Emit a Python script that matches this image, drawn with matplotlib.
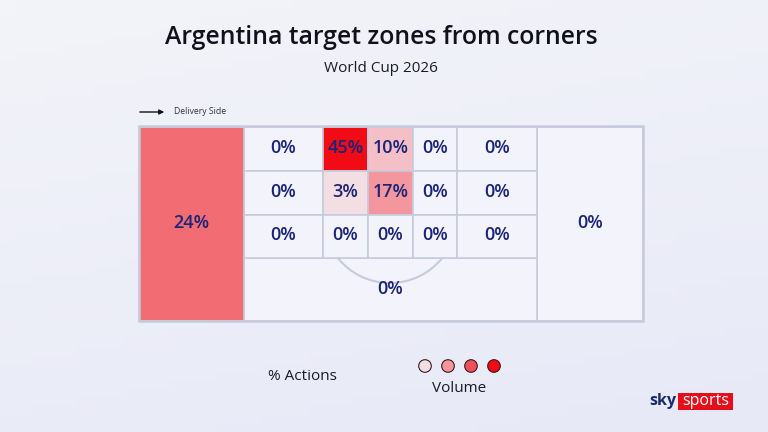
import numpy as np
import matplotlib.pyplot as plt
from matplotlib.patches import Rectangle, Arc, Circle
from matplotlib.colors import LinearSegmentedColormap

plt.rcParams['font.family'] = ['Open Sans', 'DejaVu Sans']

title = "Argentina target zones from corners"
subtitle = "World Cup 2026"

# % of corner deliveries per zone (box grid: 3 rows x 5 columns)
grid_vals = [
    [0, 45, 10, 0, 0],
    [0, 3, 17, 0, 0],
    [0, 0, 0, 0, 0],
]
near_post_val = 24   # tall zone on the left
edge_box_val = 0     # zone below the six-yard grid
far_side_val = 0     # tall zone on the right
legend_vals = [3, 17, 30, 45]

# layout in pixels
col_edges = [244, 323, 368, 413, 457, 537]
row_edges = [127, 170.5, 215, 258]
pitch_l, pitch_r, pitch_t, pitch_b = 139, 643, 127, 321

navy = '#1b2478'
line_c = '#c6cbdb'
cmap = LinearSegmentedColormap.from_list(
    'zones', [(0, '#f2f3fb'), (0.07, '#f3dde3'), (0.22, '#f4bfc6'),
              (0.53, '#f26d75'), (1.0, '#f20a14')])
vmax = 45


def col(v):
    return cmap(v / vmax)


fig = plt.figure(figsize=(7.68, 4.32), dpi=100)
ax = fig.add_axes([0, 0, 1, 1])
ax.set_xlim(0, 768)
ax.set_ylim(432, 0)
ax.axis('off')

# soft background gradient
yy, xx = np.mgrid[0:1:50j, 0:1:50j]
bg = LinearSegmentedColormap.from_list('bg', ['#f3f4f9', '#e7e9f7'])
ax.imshow(0.75 * yy + 0.25 * xx, cmap=bg, extent=(0, 768, 432, 0),
          aspect='auto', zorder=0)

ax.text(381, 37, title, ha='center', va='center', fontsize=17.8,
        fontweight='semibold', color='#10111c')
ax.text(381, 68, subtitle, ha='center', va='center', fontsize=11,
        color='#1a1a24')

# delivery side arrow
ax.annotate('', xy=(167, 112), xytext=(137, 112),
            arrowprops=dict(arrowstyle='-|>', color='#111111', lw=1,
                            mutation_scale=7))
ax.text(174, 112, 'Delivery Side', ha='left', va='center', fontsize=6.2,
        color='#333333')


def zone(x0, y0, x1, y1, v, fs=13):
    ax.add_patch(Rectangle((x0, y0), x1 - x0, y1 - y0, facecolor=col(v),
                           edgecolor=line_c, lw=1.2, zorder=2))
    ax.text((x0 + x1) / 2, (y0 + y1) / 2 - 1, f'{v}%', ha='center',
            va='center', fontsize=fs, fontweight='semibold', color=navy,
            zorder=4)


# outer zones
zone(col_edges[-1], pitch_t, pitch_r, pitch_b, far_side_val)
zone(col_edges[0], row_edges[-1], col_edges[-1], pitch_b, edge_box_val)

# penalty arc
ax.add_patch(Arc((390, 216), 134, 134, theta1=38.8, theta2=141.2,
                 color=line_c, lw=1.5, zorder=3))

# six-yard grid
for r, row in enumerate(grid_vals):
    for c, v in enumerate(row):
        zone(col_edges[c], row_edges[r], col_edges[c + 1], row_edges[r + 1], v)

zone(pitch_l, pitch_t, col_edges[0], pitch_b, near_post_val)

# outer border
ax.add_patch(Rectangle((pitch_l, pitch_t - 1), pitch_r - pitch_l,
                       pitch_b - pitch_t + 1, facecolor='none',
                       edgecolor=line_c, lw=1.8, zorder=5))

# legend
ax.text(302, 377, '% Actions', ha='center', va='center', fontsize=11,
        color='#1a1a24')
for i, v in enumerate(legend_vals):
    ax.add_patch(Circle((425 + i * 23, 366), 6.3, facecolor=col(v),
                        edgecolor='#3a1a22', lw=0.8, zorder=3))
ax.text(459, 388, 'Volume', ha='center', va='center', fontsize=11,
        color='#1a1a24')

# sky sports mark
ax.text(676, 401, 'sky', ha='right', va='center', fontsize=11.5,
        fontweight='bold', color='#1a2a6c')
ax.add_patch(Rectangle((678, 393), 55, 17, facecolor='#e40f1b',
                       edgecolor='none', zorder=3))
ax.text(705.5, 401, 'sports', ha='center', va='center', fontsize=11.5,
        color='white', zorder=4)

fig.savefig('out.png', dpi=100)
